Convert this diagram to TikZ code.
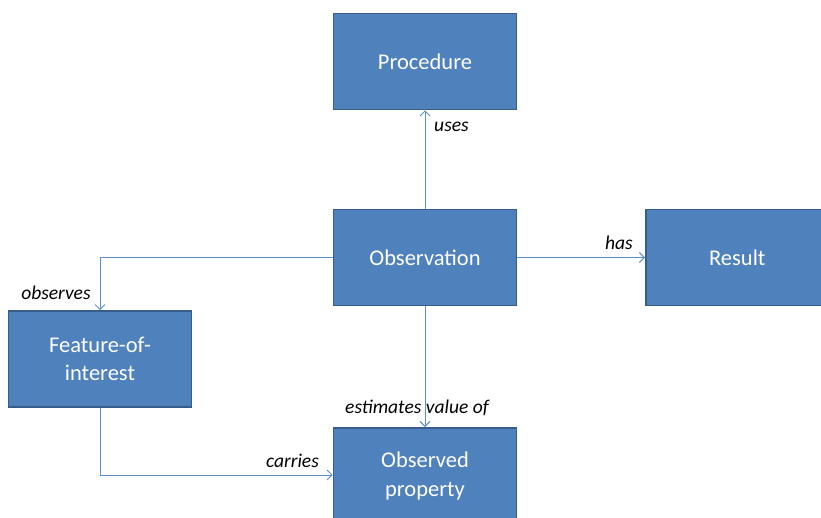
\documentclass[tikz,border=0pt]{standalone}
\usepackage{fontspec}
\setmainfont{Carlito}
\usetikzlibrary{arrows.meta}
\definecolor{boxfill}{HTML}{4F81BD}
\definecolor{boxline}{HTML}{385D8A}
\definecolor{conn}{HTML}{5B8ED0}
\begin{document}
\begin{tikzpicture}[x=1pt,y=-1pt,
  box/.style={draw=boxline,line width=1.6pt,fill=boxfill,text=white,font=\fontsize{22.5}{28.5}\selectfont,align=center,inner sep=0pt,minimum width=183pt,minimum height=96pt},
  conn/.style={draw=conn,line width=0.9pt,-{Straight Barb[length=5pt,width=10pt,line width=0.9pt]}},
  lbl/.style={font=\fontsize{19.5}{22}\itshape,text=black,inner sep=0pt}]
\useasboundingbox (0,0) rectangle (821,517);
\node[box] (proc) at (425,61.5) {Procedure};
\node[box] (obs) at (425,257.5) {Observation};
\node[box,anchor=west] (res) at (645,257.5) {Result};
\node[box] (foi) at (100,359) {Feature-of-\\interest};
\node[box,anchor=north] (prop) at (425,427) {Observed\\property};
\draw[conn] (obs.north) -- (proc.south);
\draw[conn] (obs.east) -- (res.west);
\draw[conn] (obs.west) -| (foi.north);
\draw[conn] (obs.south) -- (prop.north);
\draw[conn] (foi.south) |- (prop.west |- 0,475);
\node[lbl] (uses) at (451.5,127) {uses};
\node[lbl] (has) at (619,243) {has};
\node[lbl] (observes) at (56,293) {observes};
\node[lbl] (est) at (417,408) {estimates value of};
\node[lbl] (car) at (292.5,461) {carries};
\end{tikzpicture}
\end{document}
